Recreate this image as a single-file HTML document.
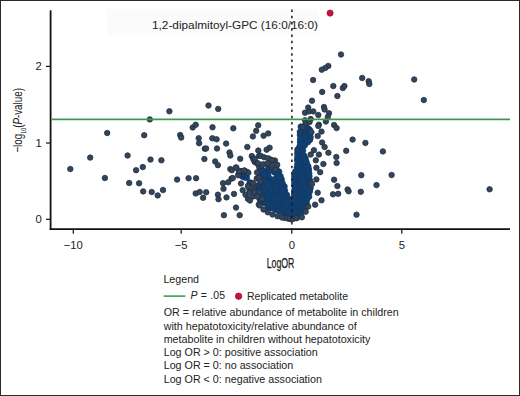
<!DOCTYPE html>
<html><head><meta charset="utf-8"><style>
html,body{margin:0;padding:0;background:#fff}
body{width:520px;height:396px;overflow:hidden;position:relative;font-family:"Liberation Sans",sans-serif;color:#222}
#frame{position:absolute;left:0;top:0;width:518px;height:394px;border:1px solid #2a2a2a}
svg{position:absolute;left:0;top:0}
.t{position:absolute;white-space:nowrap;line-height:1}
</style></head><body>
<div id="frame"></div>
<svg width="520" height="396" viewBox="0 0 520 396">
<rect x="107" y="9" width="212" height="26" fill="#fbfbfb"/>
<g fill="#222" font-family="Liberation Sans" font-size="11.3">
<text x="41.7" y="70.3" text-anchor="end">2</text>
<text x="41.7" y="146.9" text-anchor="end">1</text>
<text x="41.7" y="223.2" text-anchor="end">0</text>
<text x="73.3" y="248.5" text-anchor="middle">−10</text>
<text x="181.2" y="248.5" text-anchor="middle">−5</text>
<text x="291.8" y="248.5" text-anchor="middle">0</text>
<text x="401.8" y="248.5" text-anchor="middle">5</text>
</g>
<text x="152" y="29" font-family="Liberation Sans" font-size="11.8" fill="#222">1,2-dipalmitoyl-GPC (16:0/16:0)</text>
<g stroke="#111" stroke-width="1.8" fill="none">
<line x1="50.6" y1="10.3" x2="50.6" y2="229.9"/>
<line x1="49.7" y1="229.1" x2="510" y2="229.1"/>
<line x1="46" y1="66.4" x2="50" y2="66.4" stroke-width="1.2"/>
<line x1="46" y1="143" x2="50" y2="143" stroke-width="1.2"/>
<line x1="46" y1="219.3" x2="50" y2="219.3" stroke-width="1.2"/>
<line x1="73.3" y1="229" x2="73.3" y2="233.7" stroke-width="1.2"/>
<line x1="181.2" y1="229" x2="181.2" y2="233.7" stroke-width="1.2"/>
<line x1="291.8" y1="229" x2="291.8" y2="233.7" stroke-width="1.2"/>
<line x1="401.8" y1="229" x2="401.8" y2="233.7" stroke-width="1.2"/>
</g>
<g fill="#113f70" stroke="#113f70" stroke-width="3" stroke-linejoin="round">
<polygon points="268,184 276,180 282,182 286,192 289,202 289,214 283,213.4 277,211 270,208 265,200"/><polygon points="301,127 306,126 310,130 310,140 305,145 303,150 304,156 307,162 309,170 310,183 310,192 307,200 305,207 302,212 297,217 294.5,216 294.5,200 294.5,176 297,168 298,150 300,146 300,132"/><polygon points="286,199 296,199 297.5,212 291.5,218 286,215"/>
</g>
<g fill="#113f70" stroke="#123a66" stroke-width="0.6">
<circle cx="268.0" cy="172.4" r="3"/>
<circle cx="274.6" cy="182.9" r="3"/>
<circle cx="259.8" cy="189.9" r="3"/>
<circle cx="259.2" cy="186.2" r="3"/>
<circle cx="260.2" cy="169.4" r="3"/>
<circle cx="271.2" cy="205.5" r="3"/>
<circle cx="261.8" cy="175.9" r="3"/>
<circle cx="275.9" cy="184.4" r="3"/>
<circle cx="262.5" cy="170.8" r="3"/>
<circle cx="267.6" cy="205.0" r="3"/>
<circle cx="263.6" cy="193.5" r="3"/>
<circle cx="277.8" cy="183.2" r="3"/>
<circle cx="275.0" cy="168.1" r="3"/>
<circle cx="259.8" cy="175.1" r="3"/>
<circle cx="279.1" cy="186.0" r="3"/>
<circle cx="267.7" cy="193.7" r="3"/>
<circle cx="272.0" cy="179.7" r="3"/>
<circle cx="282.6" cy="199.3" r="3"/>
<circle cx="265.6" cy="193.1" r="3"/>
<circle cx="274.3" cy="207.9" r="3"/>
<circle cx="280.6" cy="179.1" r="3"/>
<circle cx="271.0" cy="202.1" r="3"/>
<circle cx="262.7" cy="189.0" r="3"/>
<circle cx="281.7" cy="193.1" r="3"/>
<circle cx="279.6" cy="194.1" r="3"/>
<circle cx="276.0" cy="187.4" r="3"/>
<circle cx="284.0" cy="211.3" r="3"/>
<circle cx="272.7" cy="197.5" r="3"/>
<circle cx="259.9" cy="199.4" r="3"/>
<circle cx="270.0" cy="197.8" r="3"/>
<circle cx="258.7" cy="187.6" r="3"/>
<circle cx="263.2" cy="170.7" r="3"/>
<circle cx="262.0" cy="177.1" r="3"/>
<circle cx="270.1" cy="207.7" r="3"/>
<circle cx="260.5" cy="187.0" r="3"/>
<circle cx="275.0" cy="208.3" r="3"/>
<circle cx="283.4" cy="207.3" r="3"/>
<circle cx="266.6" cy="185.3" r="3"/>
<circle cx="269.1" cy="208.3" r="3"/>
<circle cx="263.5" cy="176.4" r="3"/>
<circle cx="265.2" cy="188.8" r="3"/>
<circle cx="276.3" cy="177.9" r="3"/>
<circle cx="258.1" cy="185.5" r="3"/>
<circle cx="269.4" cy="192.8" r="3"/>
<circle cx="274.0" cy="195.3" r="3"/>
<circle cx="285.9" cy="203.2" r="3"/>
<circle cx="285.1" cy="204.1" r="3"/>
<circle cx="270.2" cy="184.5" r="3"/>
<circle cx="261.2" cy="196.1" r="3"/>
<circle cx="259.9" cy="168.3" r="3"/>
<circle cx="264.5" cy="173.0" r="3"/>
<circle cx="268.5" cy="167.6" r="3"/>
<circle cx="261.1" cy="182.8" r="3"/>
<circle cx="277.0" cy="172.3" r="3"/>
<circle cx="265.8" cy="182.0" r="3"/>
<circle cx="269.3" cy="171.0" r="3"/>
<circle cx="272.4" cy="188.7" r="3"/>
<circle cx="260.7" cy="170.0" r="3"/>
<circle cx="268.6" cy="178.0" r="3"/>
<circle cx="274.4" cy="172.2" r="3"/>
<circle cx="284.8" cy="199.1" r="3"/>
<circle cx="266.1" cy="183.0" r="3"/>
<circle cx="263.2" cy="202.8" r="3"/>
<circle cx="274.5" cy="203.2" r="3"/>
<circle cx="268.2" cy="175.9" r="3"/>
<circle cx="283.2" cy="213.3" r="3"/>
<circle cx="284.4" cy="204.5" r="3"/>
<circle cx="283.4" cy="201.3" r="3"/>
<circle cx="265.0" cy="190.4" r="3"/>
<circle cx="269.0" cy="166.4" r="3"/>
<circle cx="258.9" cy="178.7" r="3"/>
<circle cx="266.0" cy="198.9" r="3"/>
<circle cx="287.0" cy="213.4" r="3"/>
<circle cx="264.8" cy="176.1" r="3"/>
<circle cx="264.1" cy="175.0" r="3"/>
<circle cx="280.0" cy="210.6" r="3"/>
<circle cx="285.2" cy="196.3" r="3"/>
<circle cx="280.7" cy="207.2" r="3"/>
<circle cx="267.0" cy="202.5" r="3"/>
<circle cx="286.8" cy="206.6" r="3"/>
<circle cx="283.0" cy="196.3" r="3"/>
<circle cx="269.3" cy="206.8" r="3"/>
<circle cx="273.0" cy="207.2" r="3"/>
<circle cx="282.4" cy="185.8" r="3"/>
<circle cx="268.0" cy="185.1" r="3"/>
<circle cx="286.7" cy="207.4" r="3"/>
<circle cx="288.5" cy="202.3" r="3"/>
<circle cx="273.4" cy="198.7" r="3"/>
<circle cx="288.3" cy="202.1" r="3"/>
<circle cx="275.4" cy="209.6" r="3"/>
<circle cx="271.0" cy="190.0" r="3"/>
<circle cx="270.8" cy="199.9" r="3"/>
<circle cx="271.2" cy="194.2" r="3"/>
<circle cx="273.5" cy="195.6" r="3"/>
<circle cx="279.0" cy="210.7" r="3"/>
<circle cx="277.0" cy="198.1" r="3"/>
<circle cx="277.6" cy="180.6" r="3"/>
<circle cx="275.6" cy="186.2" r="3"/>
<circle cx="269.1" cy="196.1" r="3"/>
<circle cx="282.4" cy="198.9" r="3"/>
<circle cx="272.8" cy="197.6" r="3"/>
<circle cx="278.3" cy="206.7" r="3"/>
<circle cx="267.5" cy="199.1" r="3"/>
<circle cx="271.0" cy="189.4" r="3"/>
<circle cx="283.5" cy="197.3" r="3"/>
<circle cx="278.5" cy="205.8" r="3"/>
<circle cx="286.9" cy="195.1" r="3"/>
<circle cx="279.7" cy="197.2" r="3"/>
<circle cx="277.3" cy="203.6" r="3"/>
<circle cx="275.9" cy="198.1" r="3"/>
<circle cx="281.8" cy="209.8" r="3"/>
<circle cx="267.9" cy="195.0" r="3"/>
<circle cx="266.8" cy="202.8" r="3"/>
<circle cx="283.8" cy="210.5" r="3"/>
<circle cx="268.7" cy="204.3" r="3"/>
<circle cx="246.9" cy="172.1" r="3"/>
<circle cx="244.6" cy="177.3" r="3"/>
<circle cx="249.9" cy="182.5" r="3"/>
<circle cx="242.5" cy="176.5" r="3"/>
<circle cx="245.6" cy="175.1" r="3"/>
<circle cx="242.8" cy="174.8" r="3"/>
<circle cx="246.0" cy="176.6" r="3"/>
<circle cx="241.2" cy="175.0" r="3"/>
<circle cx="246.6" cy="177.7" r="3"/>
<circle cx="241.9" cy="174.0" r="3"/>
<circle cx="286.5" cy="213.8" r="3"/>
<circle cx="289.1" cy="201.5" r="3"/>
<circle cx="290.9" cy="216.3" r="3"/>
<circle cx="295.4" cy="203.9" r="3"/>
<circle cx="292.6" cy="212.3" r="3"/>
<circle cx="287.0" cy="200.1" r="3"/>
<circle cx="293.9" cy="207.1" r="3"/>
<circle cx="293.3" cy="214.2" r="3"/>
<circle cx="287.0" cy="215.3" r="3"/>
<circle cx="286.8" cy="215.4" r="3"/>
<circle cx="291.2" cy="205.4" r="3"/>
<circle cx="292.4" cy="216.6" r="3"/>
<circle cx="289.1" cy="201.5" r="3"/>
<circle cx="292.1" cy="203.5" r="3"/>
<circle cx="287.3" cy="202.1" r="3"/>
<circle cx="286.6" cy="202.8" r="3"/>
<circle cx="289.6" cy="204.8" r="3"/>
<circle cx="294.7" cy="204.5" r="3"/>
<circle cx="291.8" cy="202.4" r="3"/>
<circle cx="290.0" cy="199.3" r="3"/>
<circle cx="305.9" cy="176.1" r="3"/>
<circle cx="297.4" cy="169.2" r="3"/>
<circle cx="309.0" cy="135.7" r="3"/>
<circle cx="307.2" cy="165.3" r="3"/>
<circle cx="302.2" cy="201.9" r="3"/>
<circle cx="300.6" cy="172.1" r="3"/>
<circle cx="299.8" cy="201.7" r="3"/>
<circle cx="305.5" cy="183.9" r="3"/>
<circle cx="300.8" cy="157.6" r="3"/>
<circle cx="295.6" cy="193.4" r="3"/>
<circle cx="295.8" cy="202.6" r="3"/>
<circle cx="308.0" cy="187.0" r="3"/>
<circle cx="299.0" cy="167.8" r="3"/>
<circle cx="298.6" cy="213.5" r="3"/>
<circle cx="298.3" cy="213.9" r="3"/>
<circle cx="299.3" cy="158.4" r="3"/>
<circle cx="301.9" cy="171.8" r="3"/>
<circle cx="297.6" cy="171.9" r="3"/>
<circle cx="303.6" cy="174.2" r="3"/>
<circle cx="306.1" cy="185.8" r="3"/>
<circle cx="300.5" cy="155.7" r="3"/>
<circle cx="309.8" cy="139.6" r="3"/>
<circle cx="305.7" cy="184.5" r="3"/>
<circle cx="295.2" cy="202.0" r="3"/>
<circle cx="308.3" cy="183.1" r="3"/>
<circle cx="305.9" cy="199.9" r="3"/>
<circle cx="296.7" cy="173.7" r="3"/>
<circle cx="302.3" cy="202.0" r="3"/>
<circle cx="303.6" cy="207.2" r="3"/>
<circle cx="305.1" cy="189.1" r="3"/>
<circle cx="296.1" cy="202.1" r="3"/>
<circle cx="303.2" cy="183.1" r="3"/>
<circle cx="304.2" cy="187.9" r="3"/>
<circle cx="306.9" cy="194.1" r="3"/>
<circle cx="302.3" cy="174.7" r="3"/>
<circle cx="304.7" cy="132.0" r="3"/>
<circle cx="302.2" cy="160.8" r="3"/>
<circle cx="301.9" cy="188.2" r="3"/>
<circle cx="306.4" cy="182.1" r="3"/>
<circle cx="304.5" cy="133.0" r="3"/>
<circle cx="303.3" cy="127.1" r="3"/>
<circle cx="304.9" cy="189.0" r="3"/>
<circle cx="302.5" cy="168.3" r="3"/>
<circle cx="301.7" cy="136.8" r="3"/>
<circle cx="301.5" cy="150.4" r="3"/>
<circle cx="297.8" cy="212.0" r="3"/>
<circle cx="297.8" cy="178.9" r="3"/>
<circle cx="296.7" cy="173.7" r="3"/>
<circle cx="309.3" cy="138.1" r="3"/>
<circle cx="307.2" cy="172.3" r="3"/>
<circle cx="308.2" cy="190.0" r="3"/>
<circle cx="298.1" cy="207.7" r="3"/>
<circle cx="302.0" cy="128.3" r="3"/>
<circle cx="301.5" cy="153.5" r="3"/>
<circle cx="299.4" cy="202.5" r="3"/>
<circle cx="294.5" cy="194.3" r="3"/>
<circle cx="307.5" cy="136.9" r="3"/>
<circle cx="308.9" cy="190.9" r="3"/>
<circle cx="300.3" cy="161.8" r="3"/>
<circle cx="300.1" cy="165.0" r="3"/>
<circle cx="296.1" cy="202.0" r="3"/>
<circle cx="298.9" cy="211.1" r="3"/>
<circle cx="298.4" cy="150.2" r="3"/>
<circle cx="302.4" cy="143.3" r="3"/>
<circle cx="300.3" cy="213.0" r="3"/>
<circle cx="309.1" cy="176.0" r="3"/>
<circle cx="305.7" cy="130.5" r="3"/>
<circle cx="305.9" cy="167.0" r="3"/>
<circle cx="306.2" cy="184.6" r="3"/>
<circle cx="308.9" cy="137.6" r="3"/>
<circle cx="301.8" cy="157.3" r="3"/>
<circle cx="299.1" cy="193.3" r="3"/>
<circle cx="303.1" cy="161.9" r="3"/>
<circle cx="297.7" cy="208.4" r="3"/>
<circle cx="302.2" cy="146.0" r="3"/>
<circle cx="301.5" cy="138.7" r="3"/>
<circle cx="303.3" cy="206.7" r="3"/>
<circle cx="306.1" cy="163.6" r="3"/>
<circle cx="300.9" cy="173.7" r="3"/>
<circle cx="300.3" cy="156.8" r="3"/>
<circle cx="309.5" cy="137.5" r="3"/>
<circle cx="302.3" cy="183.3" r="3"/>
<circle cx="298.7" cy="148.6" r="3"/>
<circle cx="300.7" cy="166.6" r="3"/>
<circle cx="295.0" cy="190.6" r="3"/>
<circle cx="308.4" cy="169.1" r="3"/>
<circle cx="300.6" cy="210.3" r="3"/>
<circle cx="302.6" cy="188.1" r="3"/>
<circle cx="309.1" cy="191.7" r="3"/>
<circle cx="304.5" cy="195.6" r="3"/>
<circle cx="301.6" cy="176.2" r="3"/>
<circle cx="295.1" cy="197.2" r="3"/>
<circle cx="298.1" cy="209.7" r="3"/>
<circle cx="304.4" cy="189.6" r="3"/>
<circle cx="302.6" cy="179.0" r="3"/>
<circle cx="300.5" cy="146.3" r="3"/>
<circle cx="303.8" cy="127.0" r="3"/>
<circle cx="299.2" cy="167.9" r="3"/>
<circle cx="309.4" cy="184.7" r="3"/>
<circle cx="308.2" cy="169.3" r="3"/>
<circle cx="309.4" cy="190.1" r="3"/>
<circle cx="302.2" cy="187.4" r="3"/>
<circle cx="301.0" cy="149.4" r="3"/>
<circle cx="299.7" cy="164.3" r="3"/>
<circle cx="305.1" cy="144.0" r="3"/>
<circle cx="306.9" cy="193.3" r="3"/>
<circle cx="302.3" cy="144.7" r="3"/>
<circle cx="297.9" cy="195.2" r="3"/>
<circle cx="299.1" cy="212.6" r="3"/>
<circle cx="302.2" cy="143.0" r="3"/>
<circle cx="298.0" cy="163.9" r="3"/>
<circle cx="297.8" cy="214.6" r="3"/>
<circle cx="297.4" cy="211.2" r="3"/>
<circle cx="306.1" cy="128.9" r="3"/>
<circle cx="304.8" cy="160.5" r="3"/>
<circle cx="300.3" cy="156.2" r="3"/>
<circle cx="298.8" cy="158.0" r="3"/>
<circle cx="309.3" cy="137.3" r="3"/>
<circle cx="300.0" cy="200.8" r="3"/>
<circle cx="307.2" cy="165.4" r="3"/>
<circle cx="300.3" cy="209.7" r="3"/>
<circle cx="297.5" cy="159.1" r="3"/>
<circle cx="308.4" cy="128.8" r="3"/>
<circle cx="300.9" cy="199.9" r="3"/>
<circle cx="306.4" cy="129.7" r="3"/>
<circle cx="299.8" cy="150.8" r="3"/>
<circle cx="309.3" cy="182.1" r="3"/>
<circle cx="298.6" cy="191.2" r="3"/>
<circle cx="299.4" cy="151.1" r="3"/>
<circle cx="294.6" cy="194.8" r="3"/>
<circle cx="308.7" cy="183.7" r="3"/>
<circle cx="298.1" cy="169.2" r="3"/>
<circle cx="300.5" cy="148.8" r="3"/>
<circle cx="301.2" cy="170.9" r="3"/>
<circle cx="306.9" cy="193.2" r="3"/>
<circle cx="307.3" cy="196.3" r="3"/>
<circle cx="303.9" cy="155.8" r="3"/>
<circle cx="299.5" cy="158.9" r="3"/>
<circle cx="306.6" cy="133.2" r="3"/>
<circle cx="297.6" cy="194.5" r="3"/>
<circle cx="295.0" cy="176.3" r="3"/>
<circle cx="296.0" cy="171.4" r="3"/>
<circle cx="305.5" cy="166.7" r="3"/>
<circle cx="298.1" cy="163.9" r="3"/>
<circle cx="304.1" cy="187.3" r="3"/>
<circle cx="306.1" cy="203.1" r="3"/>
<circle cx="304.8" cy="137.0" r="3"/>
<circle cx="303.3" cy="159.9" r="3"/>
<circle cx="296.9" cy="206.5" r="3"/>
<circle cx="303.5" cy="155.7" r="3"/>
<circle cx="275.9" cy="167.6" r="3"/>
<circle cx="279.0" cy="171.7" r="3"/>
<circle cx="280.4" cy="176.2" r="3"/>
<circle cx="281.6" cy="179.5" r="3"/>
<circle cx="282.5" cy="183.4" r="3"/>
<circle cx="284.4" cy="186.5" r="3"/>
<circle cx="284.9" cy="190.8" r="3"/>
<circle cx="286.0" cy="196.6" r="3"/>
<circle cx="289.6" cy="202.1" r="3"/>
<circle cx="289.5" cy="205.8" r="3"/>
<circle cx="289.4" cy="209.9" r="3"/>
<circle cx="288.7" cy="214.3" r="3"/>
<circle cx="288.7" cy="210.4" r="3"/>
<circle cx="287.4" cy="207.9" r="3"/>
<circle cx="286.1" cy="204.4" r="3"/>
<circle cx="285.1" cy="201.1" r="3"/>
<circle cx="284.4" cy="198.5" r="3"/>
<circle cx="284.0" cy="194.8" r="3"/>
<circle cx="282.3" cy="191.9" r="3"/>
<circle cx="282.3" cy="188.6" r="3"/>
<circle cx="281.0" cy="185.4" r="3"/>
<circle cx="280.7" cy="182.7" r="3"/>
<circle cx="278.9" cy="179.1" r="3"/>
<circle cx="278.5" cy="176.5" r="3"/>
<circle cx="277.9" cy="172.8" r="3"/>
<circle cx="276.5" cy="170.4" r="3"/>
<circle cx="300.9" cy="126.7" r="3"/>
<circle cx="305.8" cy="126.5" r="3"/>
<circle cx="309.8" cy="130.1" r="3"/>
<circle cx="309.8" cy="133.2" r="3"/>
<circle cx="310.4" cy="137.3" r="3"/>
<circle cx="309.8" cy="139.6" r="3"/>
<circle cx="307.8" cy="142.1" r="3"/>
<circle cx="304.4" cy="145.5" r="3"/>
<circle cx="302.9" cy="150.4" r="3"/>
<circle cx="303.9" cy="156.5" r="3"/>
<circle cx="305.5" cy="158.6" r="3"/>
<circle cx="306.4" cy="162.1" r="3"/>
<circle cx="308.2" cy="166.5" r="3"/>
<circle cx="308.5" cy="170.1" r="3"/>
<circle cx="309.1" cy="173.3" r="3"/>
<circle cx="309.1" cy="176.2" r="3"/>
<circle cx="309.8" cy="180.3" r="3"/>
<circle cx="309.5" cy="183.0" r="3"/>
<circle cx="310.4" cy="188.1" r="3"/>
<circle cx="309.6" cy="191.6" r="3"/>
<circle cx="309.0" cy="196.6" r="3"/>
<circle cx="307.0" cy="199.5" r="3"/>
<circle cx="306.5" cy="203.4" r="3"/>
<circle cx="305.5" cy="207.1" r="3"/>
<circle cx="302.4" cy="211.6" r="3"/>
<circle cx="299.8" cy="214.2" r="3"/>
<circle cx="296.9" cy="217.4" r="3"/>
<circle cx="294.9" cy="215.6" r="3"/>
<circle cx="294.2" cy="212.7" r="3"/>
<circle cx="294.5" cy="209.5" r="3"/>
<circle cx="294.0" cy="206.1" r="3"/>
<circle cx="294.8" cy="203.7" r="3"/>
<circle cx="293.9" cy="200.1" r="3"/>
<circle cx="294.8" cy="196.0" r="3"/>
<circle cx="294.9" cy="192.7" r="3"/>
<circle cx="294.6" cy="189.8" r="3"/>
<circle cx="294.7" cy="186.1" r="3"/>
<circle cx="294.4" cy="183.0" r="3"/>
<circle cx="294.4" cy="179.6" r="3"/>
<circle cx="294.4" cy="175.9" r="3"/>
<circle cx="295.2" cy="172.1" r="3"/>
<circle cx="297.0" cy="167.7" r="3"/>
<circle cx="297.5" cy="164.7" r="3"/>
<circle cx="297.3" cy="160.4" r="3"/>
<circle cx="297.6" cy="156.7" r="3"/>
<circle cx="297.4" cy="153.5" r="3"/>
<circle cx="297.5" cy="149.9" r="3"/>
<circle cx="300.0" cy="145.4" r="3"/>
<circle cx="300.2" cy="142.0" r="3"/>
<circle cx="300.3" cy="139.3" r="3"/>
<circle cx="300.0" cy="135.0" r="3"/>
<circle cx="300.0" cy="131.9" r="3"/>
</g>
<g fill="#30465f" stroke="#262d38" stroke-width="0.75">
<circle cx="248.2" cy="185.7" r="2.75"/>
<circle cx="261.0" cy="181.4" r="2.75"/>
<circle cx="249.7" cy="187.0" r="2.75"/>
<circle cx="241.0" cy="183.5" r="2.75"/>
<circle cx="253.0" cy="196.5" r="2.75"/>
<circle cx="238.5" cy="174.0" r="2.75"/>
<circle cx="254.7" cy="161.9" r="2.75"/>
<circle cx="253.7" cy="188.3" r="2.75"/>
<circle cx="241.1" cy="171.1" r="2.75"/>
<circle cx="247.9" cy="198.8" r="2.75"/>
<circle cx="250.0" cy="189.5" r="2.75"/>
<circle cx="249.5" cy="190.5" r="2.75"/>
<circle cx="248.3" cy="172.8" r="2.75"/>
<circle cx="258.7" cy="192.6" r="2.75"/>
<circle cx="244.5" cy="170.6" r="2.75"/>
<circle cx="256.7" cy="178.4" r="2.75"/>
<circle cx="258.9" cy="177.8" r="2.75"/>
<circle cx="261.9" cy="199.0" r="2.75"/>
<circle cx="260.6" cy="181.6" r="2.75"/>
<circle cx="257.0" cy="172.4" r="2.75"/>
<circle cx="238.4" cy="175.3" r="2.75"/>
<circle cx="239.2" cy="171.3" r="2.75"/>
<circle cx="70.3" cy="169.0" r="2.75"/>
<circle cx="90.2" cy="157.6" r="2.75"/>
<circle cx="104.9" cy="178.0" r="2.75"/>
<circle cx="107.2" cy="133.0" r="2.75"/>
<circle cx="127.6" cy="155.5" r="2.75"/>
<circle cx="129.2" cy="183.0" r="2.75"/>
<circle cx="144.2" cy="135.2" r="2.75"/>
<circle cx="149.8" cy="119.4" r="2.75"/>
<circle cx="169.4" cy="111.3" r="2.75"/>
<circle cx="180.2" cy="135.0" r="2.75"/>
<circle cx="181.2" cy="137.6" r="2.75"/>
<circle cx="192.7" cy="127.5" r="2.75"/>
<circle cx="195.7" cy="124.8" r="2.75"/>
<circle cx="198.7" cy="138.2" r="2.75"/>
<circle cx="199.1" cy="143.2" r="2.75"/>
<circle cx="204.8" cy="148.7" r="2.75"/>
<circle cx="150.5" cy="159.6" r="2.75"/>
<circle cx="161.4" cy="160.3" r="2.75"/>
<circle cx="142.8" cy="167.1" r="2.75"/>
<circle cx="136.1" cy="170.2" r="2.75"/>
<circle cx="139.1" cy="183.3" r="2.75"/>
<circle cx="143.2" cy="191.4" r="2.75"/>
<circle cx="151.7" cy="192.0" r="2.75"/>
<circle cx="157.7" cy="195.4" r="2.75"/>
<circle cx="163.0" cy="190.0" r="2.75"/>
<circle cx="177.1" cy="179.6" r="2.75"/>
<circle cx="188.6" cy="178.2" r="2.75"/>
<circle cx="196.1" cy="178.2" r="2.75"/>
<circle cx="195.7" cy="193.4" r="2.75"/>
<circle cx="199.7" cy="192.0" r="2.75"/>
<circle cx="203.1" cy="197.8" r="2.75"/>
<circle cx="204.4" cy="159.0" r="2.75"/>
<circle cx="206.2" cy="192.3" r="2.75"/>
<circle cx="208.5" cy="105.5" r="2.75"/>
<circle cx="218.2" cy="108.9" r="2.75"/>
<circle cx="212.5" cy="127.3" r="2.75"/>
<circle cx="233.3" cy="128.3" r="2.75"/>
<circle cx="258.2" cy="125.3" r="2.75"/>
<circle cx="256.2" cy="130.8" r="2.75"/>
<circle cx="252.9" cy="136.4" r="2.75"/>
<circle cx="263.6" cy="135.7" r="2.75"/>
<circle cx="268.2" cy="133.4" r="2.75"/>
<circle cx="212.3" cy="138.3" r="2.75"/>
<circle cx="216.6" cy="139.3" r="2.75"/>
<circle cx="206.1" cy="148.5" r="2.75"/>
<circle cx="217.0" cy="148.5" r="2.75"/>
<circle cx="226.1" cy="143.6" r="2.75"/>
<circle cx="247.3" cy="147.0" r="2.75"/>
<circle cx="229.5" cy="152.4" r="2.75"/>
<circle cx="230.3" cy="155.5" r="2.75"/>
<circle cx="240.2" cy="158.8" r="2.75"/>
<circle cx="215.2" cy="161.5" r="2.75"/>
<circle cx="217.9" cy="165.2" r="2.75"/>
<circle cx="230.3" cy="169.1" r="2.75"/>
<circle cx="231.8" cy="170.2" r="2.75"/>
<circle cx="236.4" cy="167.6" r="2.75"/>
<circle cx="251.8" cy="156.1" r="2.75"/>
<circle cx="253.3" cy="159.1" r="2.75"/>
<circle cx="258.3" cy="150.5" r="2.75"/>
<circle cx="259.1" cy="155.8" r="2.75"/>
<circle cx="257.3" cy="163.6" r="2.75"/>
<circle cx="259.1" cy="166.4" r="2.75"/>
<circle cx="244.2" cy="170.6" r="2.75"/>
<circle cx="231.5" cy="178.6" r="2.75"/>
<circle cx="228.2" cy="182.3" r="2.75"/>
<circle cx="223.0" cy="183.2" r="2.75"/>
<circle cx="223.5" cy="188.8" r="2.75"/>
<circle cx="217.9" cy="194.7" r="2.75"/>
<circle cx="218.5" cy="199.2" r="2.75"/>
<circle cx="226.5" cy="197.4" r="2.75"/>
<circle cx="234.0" cy="193.9" r="2.75"/>
<circle cx="236.0" cy="207.6" r="2.75"/>
<circle cx="223.9" cy="215.2" r="2.75"/>
<circle cx="239.7" cy="215.2" r="2.75"/>
<circle cx="242.7" cy="190.2" r="2.75"/>
<circle cx="245.5" cy="194.7" r="2.75"/>
<circle cx="250.0" cy="200.5" r="2.75"/>
<circle cx="258.8" cy="204.5" r="2.75"/>
<circle cx="235.8" cy="167.6" r="2.75"/>
<circle cx="232.8" cy="178.0" r="2.75"/>
<circle cx="254.0" cy="160.0" r="2.75"/>
<circle cx="270.5" cy="159.5" r="2.75"/>
<circle cx="275.0" cy="160.5" r="2.75"/>
<circle cx="261.7" cy="165.8" r="2.75"/>
<circle cx="271.3" cy="166.8" r="2.75"/>
<circle cx="275.3" cy="169.3" r="2.75"/>
<circle cx="290.5" cy="219.2" r="2.75"/>
<circle cx="288.0" cy="218.6" r="2.75"/>
<circle cx="293.0" cy="219.0" r="2.75"/>
<circle cx="285.0" cy="218.0" r="2.75"/>
<circle cx="296.5" cy="218.2" r="2.75"/>
<circle cx="259.6" cy="205.5" r="2.75"/>
<circle cx="263.5" cy="209.5" r="2.75"/>
<circle cx="267.8" cy="212.3" r="2.75"/>
<circle cx="272.5" cy="214.5" r="2.75"/>
<circle cx="277.5" cy="216.2" r="2.75"/>
<circle cx="282.0" cy="217.5" r="2.75"/>
<circle cx="249.6" cy="193.0" r="2.75"/>
<circle cx="251.0" cy="187.5" r="2.75"/>
<circle cx="253.0" cy="183.0" r="2.75"/>
<circle cx="248.0" cy="186.5" r="2.75"/>
<circle cx="257.2" cy="196.5" r="2.75"/>
<circle cx="254.5" cy="192.0" r="2.75"/>
<circle cx="269.6" cy="147.7" r="2.75"/>
<circle cx="266.6" cy="149.7" r="2.75"/>
<circle cx="255.0" cy="158.8" r="2.75"/>
<circle cx="260.6" cy="155.8" r="2.75"/>
<circle cx="264.1" cy="157.3" r="2.75"/>
<circle cx="268.1" cy="158.3" r="2.75"/>
<circle cx="272.2" cy="160.3" r="2.75"/>
<circle cx="277.2" cy="164.8" r="2.75"/>
<circle cx="258.0" cy="163.3" r="2.75"/>
<circle cx="263.1" cy="164.3" r="2.75"/>
<circle cx="267.6" cy="163.3" r="2.75"/>
<circle cx="272.2" cy="165.4" r="2.75"/>
<circle cx="312.0" cy="100.7" r="2.75"/>
<circle cx="308.2" cy="107.6" r="2.75"/>
<circle cx="305.0" cy="112.7" r="2.75"/>
<circle cx="313.3" cy="111.4" r="2.75"/>
<circle cx="308.8" cy="111.4" r="2.75"/>
<circle cx="318.3" cy="115.0" r="2.75"/>
<circle cx="324.0" cy="107.0" r="2.75"/>
<circle cx="324.6" cy="109.5" r="2.75"/>
<circle cx="329.0" cy="113.3" r="2.75"/>
<circle cx="327.8" cy="117.1" r="2.75"/>
<circle cx="325.9" cy="121.5" r="2.75"/>
<circle cx="310.7" cy="119.0" r="2.75"/>
<circle cx="305.0" cy="120.3" r="2.75"/>
<circle cx="305.7" cy="123.4" r="2.75"/>
<circle cx="309.5" cy="122.1" r="2.75"/>
<circle cx="318.9" cy="124.7" r="2.75"/>
<circle cx="318.3" cy="126.0" r="2.75"/>
<circle cx="334.1" cy="125.0" r="2.75"/>
<circle cx="336.6" cy="128.1" r="2.75"/>
<circle cx="321.5" cy="131.6" r="2.75"/>
<circle cx="317.7" cy="136.1" r="2.75"/>
<circle cx="322.1" cy="142.5" r="2.75"/>
<circle cx="302.5" cy="127.2" r="2.75"/>
<circle cx="311.4" cy="132.2" r="2.75"/>
<circle cx="324.6" cy="147.0" r="2.75"/>
<circle cx="328.4" cy="152.7" r="2.75"/>
<circle cx="313.9" cy="150.2" r="2.75"/>
<circle cx="310.7" cy="154.6" r="2.75"/>
<circle cx="318.9" cy="154.6" r="2.75"/>
<circle cx="315.8" cy="160.3" r="2.75"/>
<circle cx="323.4" cy="164.0" r="2.75"/>
<circle cx="316.4" cy="167.8" r="2.75"/>
<circle cx="320.2" cy="172.2" r="2.75"/>
<circle cx="316.4" cy="179.4" r="2.75"/>
<circle cx="334.1" cy="179.7" r="2.75"/>
<circle cx="336.3" cy="157.0" r="2.75"/>
<circle cx="336.6" cy="163.0" r="2.75"/>
<circle cx="312.0" cy="183.9" r="2.75"/>
<circle cx="317.7" cy="192.7" r="2.75"/>
<circle cx="321.5" cy="200.3" r="2.75"/>
<circle cx="315.1" cy="204.7" r="2.75"/>
<circle cx="308.2" cy="206.6" r="2.75"/>
<circle cx="305.7" cy="211.7" r="2.75"/>
<circle cx="301.9" cy="217.3" r="2.75"/>
<circle cx="337.4" cy="186.1" r="2.75"/>
<circle cx="333.0" cy="194.3" r="2.75"/>
<circle cx="338.2" cy="193.8" r="2.75"/>
<circle cx="341.0" cy="54.5" r="2.75"/>
<circle cx="328.3" cy="65.9" r="2.75"/>
<circle cx="325.3" cy="67.9" r="2.75"/>
<circle cx="321.8" cy="69.7" r="2.75"/>
<circle cx="313.1" cy="80.0" r="2.75"/>
<circle cx="333.3" cy="86.1" r="2.75"/>
<circle cx="342.8" cy="88.1" r="2.75"/>
<circle cx="344.4" cy="86.1" r="2.75"/>
<circle cx="322.2" cy="91.9" r="2.75"/>
<circle cx="337.4" cy="96.0" r="2.75"/>
<circle cx="362.2" cy="78.0" r="2.75"/>
<circle cx="368.7" cy="81.2" r="2.75"/>
<circle cx="369.3" cy="84.0" r="2.75"/>
<circle cx="414.2" cy="79.5" r="2.75"/>
<circle cx="423.8" cy="100.1" r="2.75"/>
<circle cx="352.6" cy="139.6" r="2.75"/>
<circle cx="365.4" cy="142.9" r="2.75"/>
<circle cx="346.2" cy="150.8" r="2.75"/>
<circle cx="382.9" cy="151.4" r="2.75"/>
<circle cx="361.3" cy="175.2" r="2.75"/>
<circle cx="391.6" cy="175.0" r="2.75"/>
<circle cx="376.5" cy="185.1" r="2.75"/>
<circle cx="347.6" cy="189.4" r="2.75"/>
<circle cx="348.6" cy="191.3" r="2.75"/>
<circle cx="360.8" cy="191.8" r="2.75"/>
<circle cx="356.5" cy="214.7" r="2.75"/>
<circle cx="489.6" cy="189.3" r="2.75"/>
</g>
<line x1="51.5" y1="119.35" x2="510" y2="119.35" stroke="#3d9a4f" stroke-width="1.7"/>
<line x1="291.9" y1="9.4" x2="291.9" y2="229" stroke="#1a1a1a" stroke-width="1.5" stroke-dasharray="2.7 3.55"/>
<circle cx="330.1" cy="13.1" r="3.1" fill="#cc1238" stroke="#9e0b29" stroke-width="0.7"/>
<text transform="translate(21.9,152.6) rotate(-90)" font-family="Liberation Sans" font-size="12.8" fill="#1a1a1a" textLength="64.5" lengthAdjust="spacingAndGlyphs">−log<tspan font-size="7" dy="4">10</tspan><tspan dy="-4">(</tspan><tspan font-style="italic">P</tspan>-value)</text>
<text x="266.7" y="267.9" font-family="Liberation Sans" font-size="13.8" fill="#1a1a1a" stroke="#1a1a1a" stroke-width="0.25" textLength="27.7" lengthAdjust="spacingAndGlyphs">LogOR</text>
<g font-family="Liberation Sans" font-size="10.5" fill="#222">
<text x="163.4" y="283" font-size="10.7">Legend</text>
<text x="190.6" y="299.4" textLength="34.6" lengthAdjust="spacing"><tspan font-style="italic">P</tspan> = .05</text>
<text x="247" y="299.5">Replicated metabolite</text>
</g>
<line x1="163.7" y1="296.1" x2="185.4" y2="296.1" stroke="#3c9150" stroke-width="1.5"/>
<circle cx="238.6" cy="296.2" r="3.2" fill="#cc1238" stroke="#9e0b29" stroke-width="0.7"/>
<g font-family="Liberation Sans" font-size="10.72" fill="#222">
<text x="163.7" y="316.2">OR = relative abundance of metabolite in children</text>
<text x="163.7" y="329.5">with hepatotoxicity/relative abundance of</text>
<text x="163.7" y="342.8">metabolite in children without hepatotoxicity</text>
<text x="163.7" y="356.1">Log OR &gt; 0: positive association</text>
<text x="163.7" y="369.4">Log OR = 0: no association</text>
<text x="163.7" y="382.7">Log OR &lt; 0: negative association</text>
</g>
</svg>
</body></html>
